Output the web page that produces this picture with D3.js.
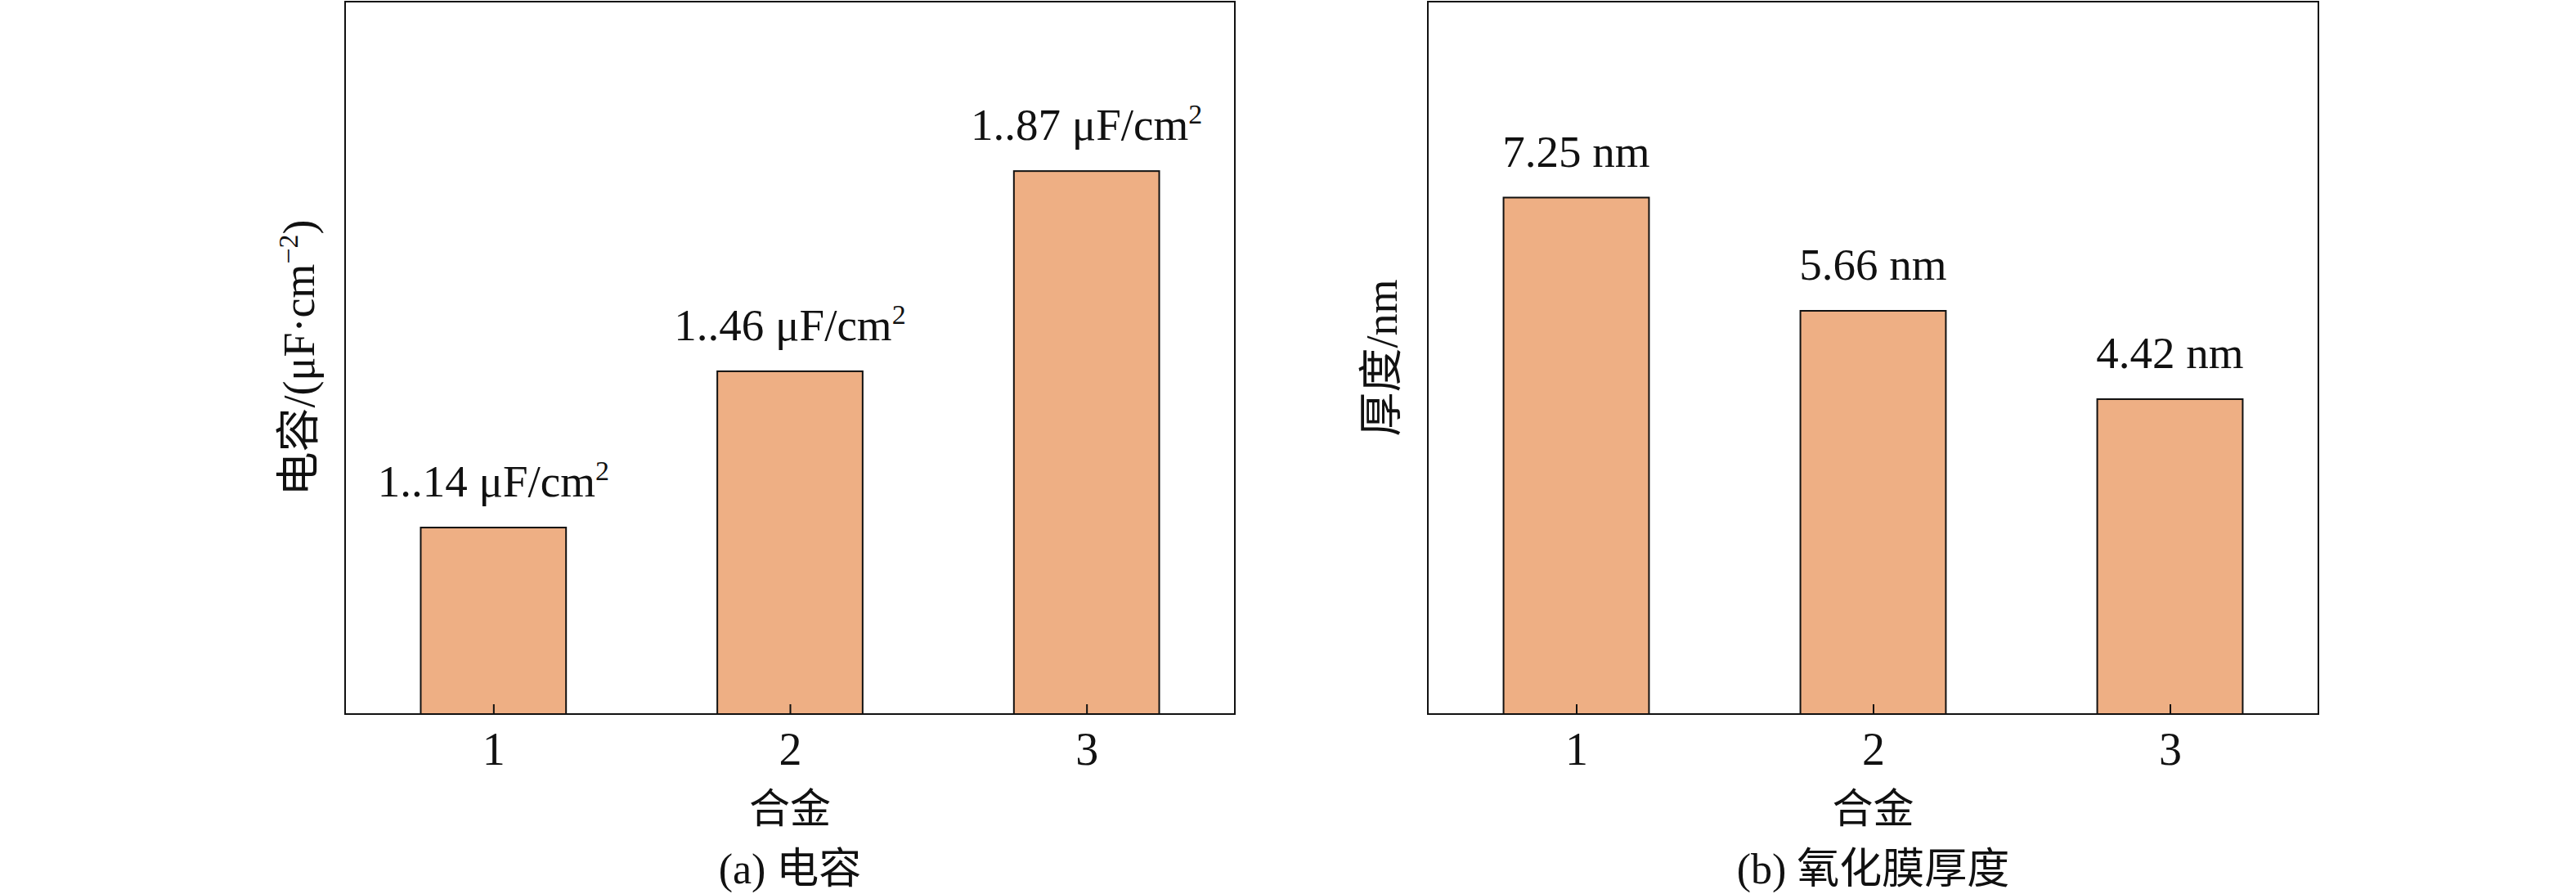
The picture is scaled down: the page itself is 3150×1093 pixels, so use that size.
<!DOCTYPE html>
<html>
<head>
<meta charset="utf-8">
<script src="https://cdn.jsdelivr.net/npm/d3@7"></script>
<style>
body{margin:0;background:#fff;}
text{font-family:"Liberation Serif","Noto Sans CJK SC",serif;fill:#111;}
</style>
</head>
<body>
<svg id="chart" width="3150" height="1093"></svg>
<script>
var categories = ["1", "2", "3"];
var capValues = [1.14, 1.46, 1.87];
var capLabels = ["1..14", "1..46", "1..87"];
var thickValues = [7.25, 5.66, 4.42];
var thickLabels = ["7.25 nm", "5.66 nm", "4.42 nm"];

var svg = d3.select("#chart");
var top0 = 2, bottom0 = 873;

function panel(left, right, values, domain, labelFn, yTitle, caption) {
  var g = svg.append("g");
  var x = d3.scalePoint().domain(categories).range([left, right]).padding(0.5);
  var bw = x.step() * 0.49;
  var y = d3.scaleLinear().domain(domain).range([bottom0, top0]);

  g.selectAll("rect.bar").data(values).enter().append("rect")
    .attr("class", "bar")
    .attr("x", function(d, i) { return x(categories[i]) - bw / 2; })
    .attr("width", bw)
    .attr("y", function(d) { return y(d); })
    .attr("height", function(d) { return bottom0 - y(d); })
    .attr("fill", "#EEAF84")
    .attr("stroke", "#111")
    .attr("stroke-width", 2);

  // value labels
  var lab = g.selectAll("text.val").data(values).enter().append("text")
    .attr("class", "val")
    .attr("x", function(d, i) { return x(categories[i]); })
    .attr("y", function(d) { return y(d) - 38; })
    .attr("text-anchor", "middle")
    .attr("font-size", 55);
  labelFn(lab);

  // frame
  g.append("rect").attr("x", left).attr("y", top0)
    .attr("width", right - left).attr("height", bottom0 - top0)
    .attr("fill", "none").attr("stroke", "#111").attr("stroke-width", 2);

  // inward ticks
  var ax = d3.axisBottom(x).tickSize(-12).tickPadding(22);
  var axg = g.append("g").attr("transform", "translate(0," + bottom0 + ")").call(ax);
  axg.select(".domain").remove();
  axg.selectAll(".tick line").attr("stroke", "#111").attr("stroke-width", 2);
  axg.selectAll(".tick text").attr("font-size", 56).attr("fill", "#111")
    .style("font-family", "Liberation Serif");

  var cx = (left + right) / 2;
  g.append("text").attr("x", cx).attr("y", 1006).attr("text-anchor", "middle")
    .attr("font-size", 50).text("合金");
  g.append("text").attr("x", cx).attr("y", 1080).attr("text-anchor", "middle")
    .attr("font-size", 52).text(caption);

  var yt = g.append("text")
    .attr("transform", "translate(" + (left - 38) + "," + ((top0 + bottom0) / 2) + ") rotate(-90)")
    .attr("text-anchor", "middle").attr("font-size", 54);
  yTitle(yt);
}

panel(422, 1510, capValues, [0.758, 2.217], function(sel) {
  sel.each(function(d, i) {
    var t = d3.select(this);
    t.append("tspan").text(capLabels[i] + " μF/cm");
    t.append("tspan").attr("font-size", 34).attr("dy", -20).text("2");
  });
}, function(t) {
  t.append("tspan").text("电容/(μF·cm");
  t.append("tspan").attr("font-size", 34).attr("dy", -20).text("−2");
  t.append("tspan").attr("dy", 20).text(")");
}, "(a) 电容");

panel(1746, 2835, thickValues, [0, 10], function(sel) {
  sel.text(function(d, i) { return thickLabels[i]; });
}, function(t) {
  t.text("厚度/nm");
}, "(b) 氧化膜厚度");
</script>
</body>
</html>
